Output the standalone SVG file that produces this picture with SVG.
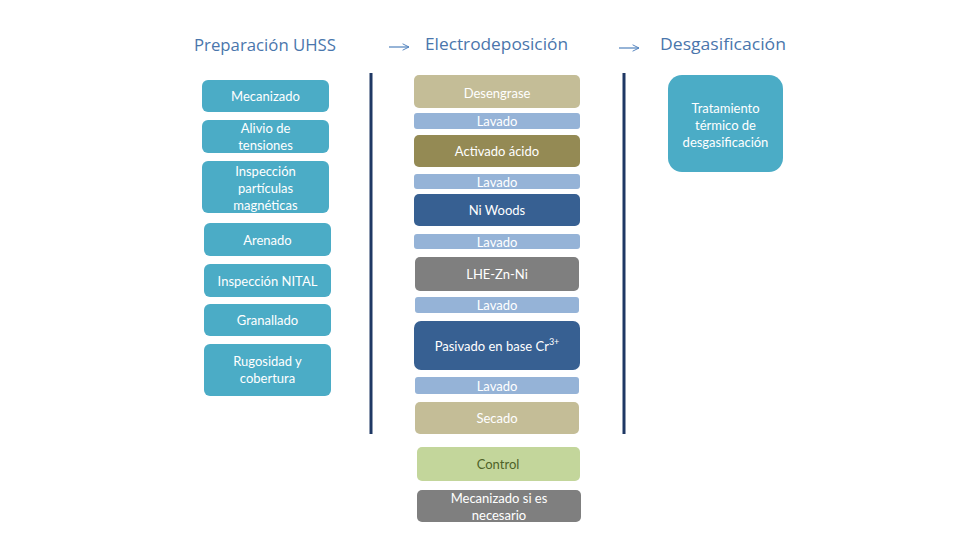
<svg xmlns="http://www.w3.org/2000/svg" width="980" height="560" viewBox="0 0 980 560">
<defs>
<marker id="ah" viewBox="0 0 10 10" refX="9" refY="5" markerWidth="8" markerHeight="8" markerUnits="userSpaceOnUse" orient="auto"><path d="M1,1 L9,5 L1,9" fill="none" stroke="#4F81BD" stroke-width="1.2"/></marker>
</defs>
<style>
.hd{font-family:"Open Sans","DejaVu Sans",sans-serif;font-size:17px;fill:#4A76AC}
.t{font-family:Lato,"Liberation Sans",sans-serif;font-size:13px;fill:#FFFFFF;text-anchor:middle;dominant-baseline:central}
.teal{fill:#4BACC6}
.tan{fill:#C4BD97}
.lav{fill:#95B3D7}
.olive{fill:#948A54}
.navy{fill:#376092}
.gray{fill:#7F7F7F}
.green{fill:#C3D69B}
.vl{stroke:#1F3864;stroke-width:3}
.ar{stroke:#4F81BD;stroke-width:1.2;fill:none}
</style>
<rect width="980" height="560" fill="#FFFFFF"/>
<g id="headers">
<text class="hd" x="194" y="51" textLength="142" lengthAdjust="spacingAndGlyphs">Preparación UHSS</text>
<text class="hd" x="425" y="50" textLength="143" lengthAdjust="spacingAndGlyphs">Electrodeposición</text>
<text class="hd" x="660" y="50" textLength="126" lengthAdjust="spacingAndGlyphs">Desgasificación</text>
</g>
<g id="connectors">
<path class="ar" d="M389,47 H409" marker-end="url(#ah)"/>
<path class="ar" d="M619,48 H639" marker-end="url(#ah)"/>
<line class="vl" x1="371" y1="73" x2="371" y2="434"/>
<line class="vl" x1="624" y1="73" x2="624" y2="434"/>
</g>
<g id="mecanizado"><rect class="teal" x="202" y="80" width="127" height="32" rx="6"/><text class="t" x="265.5" y="96">Mecanizado</text></g>
<g id="alivio"><rect class="teal" x="202" y="120" width="127" height="33" rx="6"/><text class="t" x="265.5" y="128">Alivio de</text><text class="t" x="265.5" y="145">tensiones</text></g>
<g id="inspeccion-pm"><rect class="teal" x="202" y="161" width="127" height="52" rx="6"/><text class="t" x="265.5" y="171">Inspección</text><text class="t" x="265.5" y="188">partículas</text><text class="t" x="265.5" y="205">magnéticas</text></g>
<g id="arenado"><rect class="teal" x="204" y="223" width="127" height="33" rx="6"/><text class="t" x="267.5" y="240">Arenado</text></g>
<g id="nital"><rect class="teal" x="204" y="264" width="127" height="33" rx="6"/><text class="t" x="267.5" y="281">Inspección NITAL</text></g>
<g id="granallado"><rect class="teal" x="204" y="304" width="127" height="32" rx="6"/><text class="t" x="267.5" y="320">Granallado</text></g>
<g id="rugosidad"><rect class="teal" x="204" y="344" width="127" height="52" rx="6"/><text class="t" x="267.5" y="361">Rugosidad y</text><text class="t" x="267.5" y="378">cobertura</text></g>
<g id="desengrase"><rect class="tan" x="414" y="75" width="166" height="33" rx="5"/><text class="t" x="497" y="93" fill="#F5F3EA">Desengrase</text></g>
<g id="lavado1"><rect class="lav" x="414" y="113" width="166" height="16" rx="3"/><text class="t" x="497" y="121">Lavado</text></g>
<g id="activado"><rect class="olive" x="414" y="135" width="166" height="32" rx="5"/><text class="t" x="497" y="151">Activado ácido</text></g>
<g id="lavado2"><rect class="lav" x="414" y="174" width="166" height="15" rx="3"/><text class="t" x="497" y="181.5">Lavado</text></g>
<g id="niwoods"><rect class="navy" x="414" y="194" width="166" height="32" rx="5"/><text class="t" x="497" y="210">Ni Woods</text></g>
<g id="lavado3"><rect class="lav" x="414" y="234" width="166" height="15" rx="3"/><text class="t" x="497" y="241.5">Lavado</text></g>
<g id="lhe"><rect class="gray" x="415" y="257" width="164" height="34" rx="5"/><text class="t" x="497" y="274">LHE-Zn-Ni</text></g>
<g id="lavado4"><rect class="lav" x="415" y="297" width="164" height="16" rx="3"/><text class="t" x="497" y="305">Lavado</text></g>
<g id="pasivado"><rect class="navy" x="414" y="321" width="166" height="49" rx="7"/><text class="t" x="497" y="346">Pasivado en base Cr<tspan font-size="9" dy="-5">3+</tspan></text></g>
<g id="lavado5"><rect class="lav" x="415" y="377" width="164" height="17" rx="3"/><text class="t" x="497" y="385.5">Lavado</text></g>
<g id="secado"><rect class="tan" x="415" y="402" width="164" height="32" rx="5"/><text class="t" x="497" y="418">Secado</text></g>
<g id="control"><rect class="green" x="417" y="447" width="163" height="34" rx="5"/><text class="t" x="498" y="464" style="fill:#4F6228">Control</text></g>
<g id="mecanizado2"><rect class="gray" x="417" y="490" width="164" height="32" rx="5"/><text class="t" x="499" y="498">Mecanizado si es</text><text class="t" x="499" y="515">necesario</text></g>
<g id="tratamiento"><rect class="teal" x="668" y="75" width="115" height="97" rx="14"/><text class="t" x="725.5" y="108">Tratamiento</text><text class="t" x="725.5" y="125">térmico de</text><text class="t" x="725.5" y="142">desgasificación</text></g>
</svg>
